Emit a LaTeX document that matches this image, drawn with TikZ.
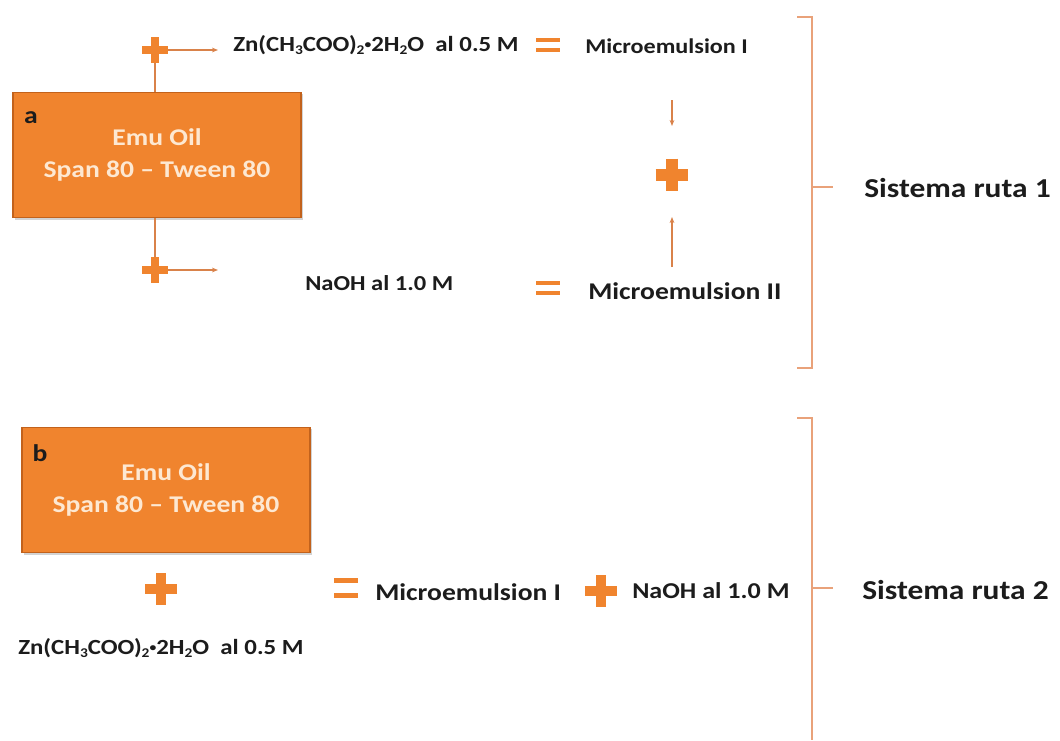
\documentclass[tikz,border=0pt]{standalone}
\usepackage{fontspec}
\setmainfont{Carlito}[FakeStretch=1.15]
\usetikzlibrary{arrows.meta,shadows}
\definecolor{org}{HTML}{F0842E}
\definecolor{orgdark}{HTML}{C2621C}
\definecolor{cream}{HTML}{FDE8D2}
\definecolor{lineorg}{HTML}{D9824A}
\definecolor{brk}{HTML}{E9A27A}
\definecolor{txtc}{HTML}{1C1C1C}
\newcommand\sbs[1]{\raisebox{-0.35ex}{\scalebox{0.62}{#1}}}
\newcommand\smbul{\raisebox{0.28ex}{\scalebox{0.55}{•}}}
\newcommand\zinc{Zn(CH\sbs{3}COO)\sbs{2}\smbul2H\sbs{2}O\ \ al 0.5 M}
\begin{document}
\begin{tikzpicture}[x=0.75pt,y=-0.75pt,
  emubox/.style={fill=org, draw=orgdark, line width=1pt, minimum width=216pt, minimum height=94pt,
    inner sep=0pt, align=center, text=cream, font=\bfseries\fontsize{18}{24}\selectfont,
    drop shadow={shadow xshift=1.5pt, shadow yshift=-1.5pt, opacity=0.35}},
  txt/.style={inner sep=0pt, text=txtc},
  plusm/.style={minimum size=#1, inner sep=0pt, path picture={
    \draw[org, line width=0.34*#1] (path picture bounding box.west) -- (path picture bounding box.east)
      (path picture bounding box.north) -- (path picture bounding box.south);}},
  eqm/.style={minimum width=18pt, minimum height=#1, inner sep=0pt, path picture={
    \draw[org, line width=3.6pt] ([yshift=-1.8pt]path picture bounding box.north west) -- ([yshift=-1.8pt]path picture bounding box.north east)
      ([yshift=1.8pt]path picture bounding box.south west) -- ([yshift=1.8pt]path picture bounding box.south east);}},
  thinl/.style={draw=lineorg, line width=0.8pt},
  arr/.style={thinl, -{Stealth[length=4.5pt,width=3.5pt]}},
  brkl/.style={draw=brk, line width=1.1pt}
]
\useasboundingbox (0,0) rectangle (1060,740);

% ---------- part a ----------
\node[emubox] (boxa) at (157,155) {Emu Oil\\Span 80 – Tween 80};
\node[txt, font=\bfseries\fontsize{18}{20}\selectfont] (la) at (31,118) {a};

\node[plusm=19.5pt] (pa1) at (155,50) {};
\node[plusm=19.5pt] (pa2) at (155,270) {};
\draw[thinl] (boxa.north -| pa1) -- (pa1.south);
\draw[thinl] (boxa.south -| pa2) -- (pa2.north);
\coordinate (ea1) at (218,50);
\coordinate (ea2) at (218,270);
\draw[arr] (pa1.east) -- (ea1);
\draw[arr] (pa2.east) -- (ea2);

\node[txt, anchor=west, font=\bfseries\fontsize{16.2}{18}\selectfont] (zna) at (233,45) {\zinc};
\node[eqm=11pt] (eqa1) at (548,45) {};
\node[txt, anchor=west, font=\bfseries\fontsize{15.75}{18}\selectfont] (mea1) at (585,46) {Microemulsion I};

\node[txt, anchor=west, font=\bfseries\fontsize{16}{18}\selectfont] (naa) at (305,283) {NaOH al 1.0 M};
\node[eqm=11pt] (eqa2) at (548,288) {};
\node[txt, anchor=west, font=\bfseries\fontsize{18}{20}\selectfont] (mea2) at (588,291) {Microemulsion II};

\node[plusm=24.5pt] (pm) at (672,175) {};
\coordinate (dn1) at (672,100);
\coordinate (dn2) at (672,126);
\coordinate (up1) at (672,267);
\coordinate (up2) at (672,217);
\draw[arr] (dn1) -- (dn2);
\draw[arr] (up1) -- (up2);

\draw[brkl] (797,17) -- (812,17) -- (812,368) -- (797,368);
\draw[brkl] (812,187) -- (833,187);
\node[txt, anchor=west, font=\bfseries\fontsize{20.5}{24}\selectfont] (sr1) at (864,188) {Sistema ruta 1};

% ---------- part b ----------
\node[emubox] (boxb) at (166,490) {Emu Oil\\Span 80 – Tween 80};
\node[txt, font=\bfseries\fontsize{18}{20}\selectfont] (lb) at (40,453) {b};

\node[plusm=24pt] (pb1) at (161,589) {};
\node[txt, anchor=west, font=\bfseries\fontsize{16.2}{18}\selectfont] (znb) at (18,648) {\zinc};

\node[eqm=15pt] (eqb) at (346,588) {};
\node[txt, anchor=west, font=\bfseries\fontsize{18}{20}\selectfont] (meb) at (375,592) {Microemulsion I};
\node[plusm=24pt] (pb2) at (601,591) {};
\node[txt, anchor=west, font=\bfseries\fontsize{17}{20}\selectfont] (nab) at (632,591) {NaOH al 1.0 M};

\draw[brkl] (797,418) -- (812,418) -- (812,740);
\draw[brkl] (812,588) -- (833,588);
\node[txt, anchor=west, font=\bfseries\fontsize{20.5}{24}\selectfont] (sr2) at (862,590) {Sistema ruta 2};
\end{tikzpicture}
\end{document}
